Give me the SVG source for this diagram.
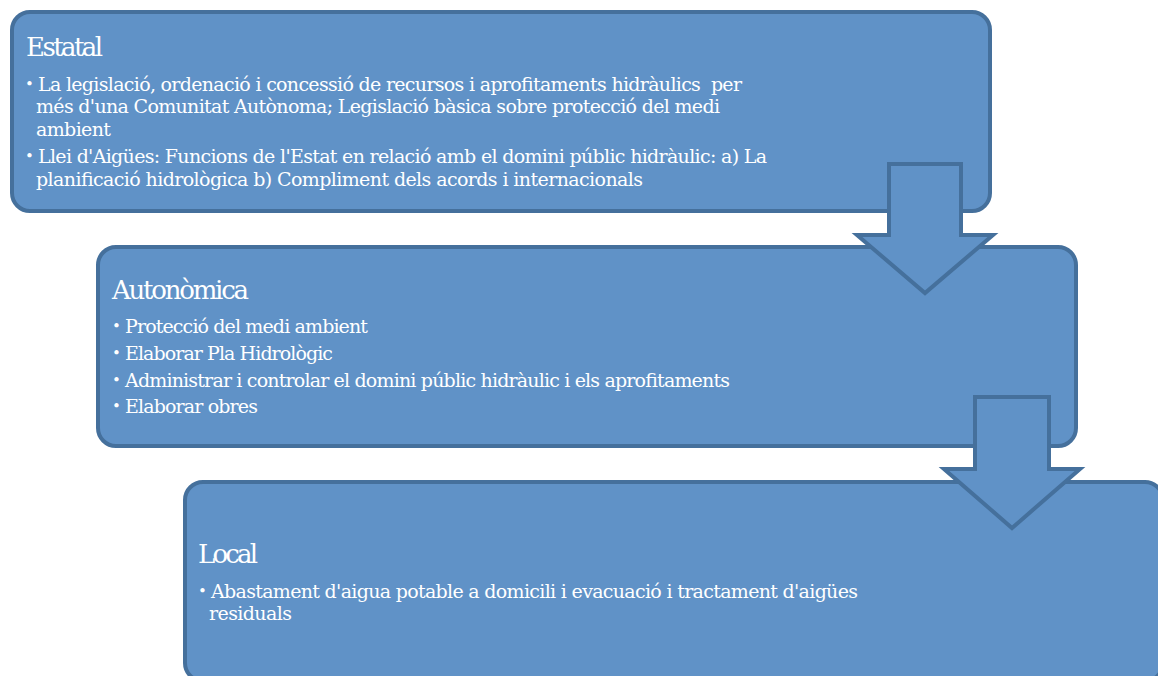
<svg xmlns="http://www.w3.org/2000/svg" width="1158" height="676" viewBox="0 0 1158 676">
<style>
.box{fill:#6092C7;stroke:#45709C;stroke-width:4}
.arr{fill:#6092C7;stroke:#45709C;stroke-width:4;stroke-linejoin:miter}
text{font-family:"DejaVu Serif","Liberation Serif",serif;fill:#ffffff}
.t{font-size:26px}
.b{font-size:19px}
.d{font-size:15px}
</style>
<rect width="1158" height="676" fill="#ffffff"/>
<g id="estatal">
<rect class="box" x="12" y="12" width="978" height="199" rx="18"/>
<text class="t" x="26" y="56" textLength="77">Estatal</text>
<text class="d" x="25" y="89">•</text>
<text class="b" x="38" y="91" textLength="704" xml:space="preserve">La legislació, ordenació i concessió de recursos i aprofitaments hidràulics  per</text>
<text class="b" x="36" y="113" textLength="684">més d'una Comunitat Autònoma; Legislació bàsica sobre protecció del medi</text>
<text class="b" x="36" y="136" textLength="75">ambient</text>
<text class="d" x="25" y="161">•</text>
<text class="b" x="38" y="163" textLength="729">Llei d'Aigües: Funcions de l'Estat en relació amb el domini públic hidràulic: a) La</text>
<text class="b" x="36" y="186" textLength="607">planificació hidrològica b) Compliment dels acords i internacionals</text>
</g>
<g id="autonomica">
<rect class="box" x="98" y="247" width="978" height="199" rx="18"/>
<text class="t" x="112" y="299" textLength="137">Autonòmica</text>
<text class="d" x="112" y="331">•</text>
<text class="b" x="125" y="333" textLength="243">Protecció del medi ambient</text>
<text class="d" x="112" y="358">•</text>
<text class="b" x="125" y="360" textLength="208">Elaborar Pla Hidrològic</text>
<text class="d" x="112" y="385">•</text>
<text class="b" x="125" y="387" textLength="605">Administrar i controlar el domini públic hidràulic i els aprofitaments</text>
<text class="d" x="112" y="411">•</text>
<text class="b" x="125" y="413" textLength="133">Elaborar obres</text>
</g>
<g id="local">
<rect class="box" x="185" y="482" width="978" height="199" rx="18"/>
<text class="t" x="198" y="563" textLength="60">Local</text>
<text class="d" x="198" y="596">•</text>
<text class="b" x="211" y="598" textLength="647">Abastament d'aigua potable a domicili i evacuació i tractament d'aigües</text>
<text class="b" x="209" y="620" textLength="83">residuals</text>
</g>
<g id="connectors">
<path class="arr" d="M889,164 H961 V235 H993 L925,293 L857,235 H889 Z"/>
<path class="arr" d="M975,397 H1049 V469 H1080 L1012,528 L944,469 H975 Z"/>
</g>
</svg>
